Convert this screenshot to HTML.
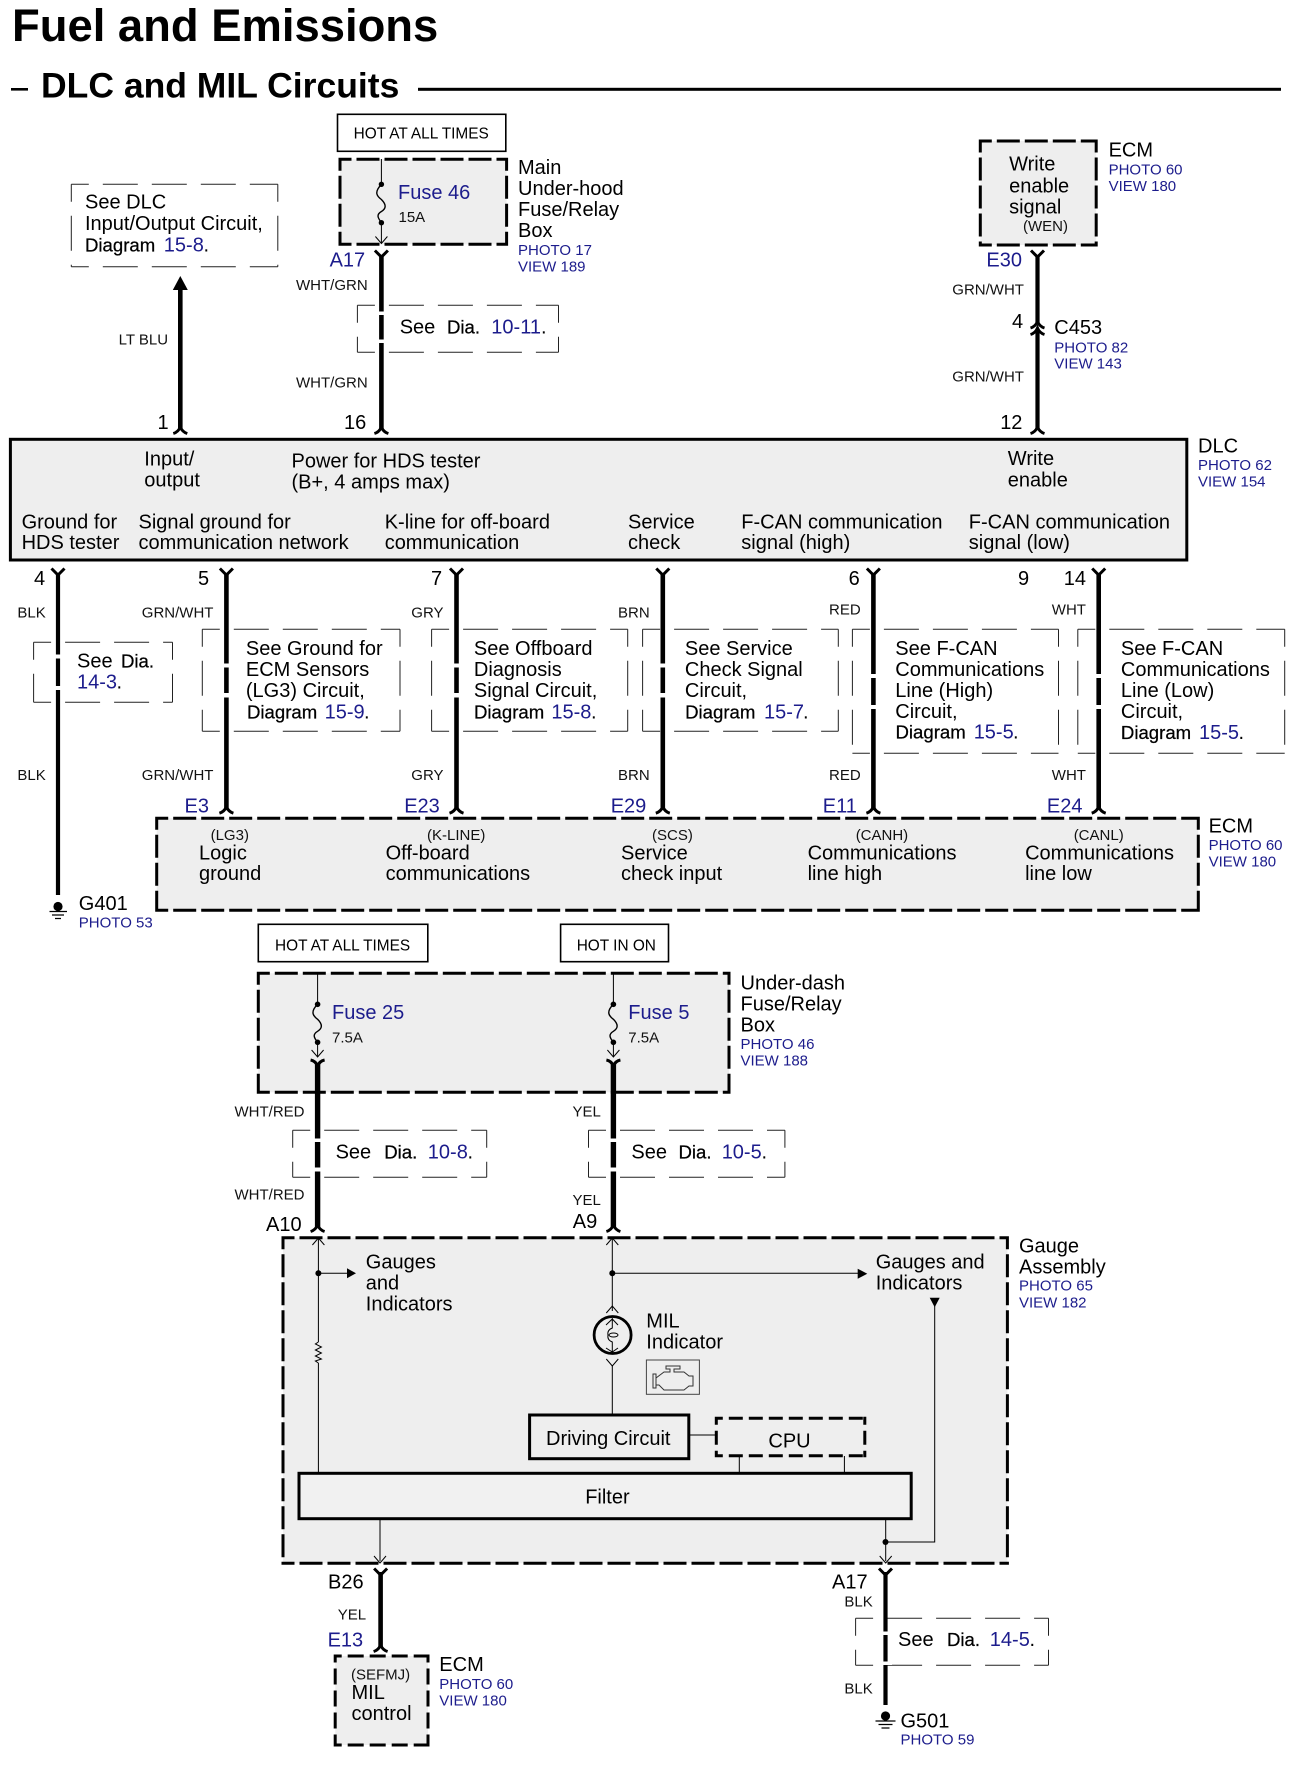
<!DOCTYPE html>
<html><head><meta charset="utf-8"><style>
html,body{margin:0;padding:0;background:#fff}
svg{display:block}
text{font-family:"Liberation Sans",Arial,sans-serif;font-size:20px;fill:#000}
.s{font-size:15px;fill:#111}
.h{font-size:15.4px}
.b{fill:#1c1c8c}
.p{font-size:15px;fill:#1c1c8c}
.d{font-size:18.6px;stroke:#000;stroke-width:.25px}
.bx{fill:#eee;stroke:none}
.box{fill:none;stroke:#000;stroke-width:3;stroke-dasharray:23 5;stroke-dashoffset:10}
.see{fill:none;stroke:#222;stroke-width:1;stroke-dasharray:35 14;stroke-dashoffset:17.5}
.w{stroke:#000;stroke-width:4.6;fill:none}
.c{stroke:#000;stroke-width:3;fill:none}
.n{stroke:#000;stroke-width:1;fill:none}
.f{stroke:#000;stroke-width:1.4;fill:none}
</style></head><body>
<svg width="1295" height="1767" viewBox="0 0 1295 1767" xmlns="http://www.w3.org/2000/svg">
<defs>
<path id="y" class="c" d="M-6.5,-6.5L0,0L6.5,-6.5"/>
<path id="u" class="c" d="M-7,6.5Q-2,5 0,0Q2,5 7,6.5"/>
<path id="v" class="c" d="M-7,-6Q-2,-5 0,0Q2,-5 7,-6"/>
<path id="cd" class="n" d="M-6,-7L0,0L6,-7"/>
<path id="cu" class="n" d="M-6,7L0,0L6,7"/>
<path id="fz" class="f" d="M0,0C-8,8 -4,12 0,15C5,20 5,24 0,27C-5,30 -4,33 0,38"/>
</defs>

<text x="12" y="41" style="font-size:45.4px;font-weight:bold">Fuel and Emissions</text>
<rect x="11" y="88" width="17" height="2.6"/>
<text x="41" y="97.5" style="font-size:35.5px;font-weight:bold">DLC and MIL Circuits</text>
<rect x="418" y="87.8" width="863" height="3"/>

<!-- See DLC -->
<path class="see" d="M71.3,184.3h206.5m-206.5,82.4h206.5M71.3,184.3v82.4m206.5,-82.4v82.4"/>
<text x="85" y="208.7">See DLC</text>
<text x="85" y="230">Input/Output Circuit,</text>
<text class="d" x="85" y="251.7">Diagram</text><text class="b" x="163.8" y="251.7">15-8</text><text x="203.5" y="251.7">.</text>
<path d="M180.3,276L187.8,290H172.8Z"/><path class="w" d="M180.3,285V429"/><use href="#u" x="180.3" y="427"/>
<text class="s" x="118.6" y="344.3">LT BLU</text>
<text x="157.5" y="429">1</text>

<!-- Fuse 46 -->
<rect x="337.5" y="114.3" width="168.3" height="37" fill="#fff" stroke="#000" stroke-width="1.6"/>
<text class="h" x="353.6" y="138.3">HOT AT ALL TIMES</text>
<rect class="bx" x="340" y="159.3" width="166.6" height="85"/>
<path class="box" d="M338.5,159.3h169.6m-169.6,85h169.6M340,157.8v88m166.6,-88v88"/>
<path class="n" d="M381.4,159V184M381.4,222.7V243"/><use href="#fz" x="381.4" y="184.5"/>
<circle cx="381.4" cy="184.3" r="2.7"/><circle cx="381.4" cy="222.7" r="2.7"/>
<use href="#cd" x="381.4" y="243.5"/>
<text class="b" x="398" y="199">Fuse 46</text>
<text class="s" x="398.5" y="222">15A</text>
<text x="518" y="174">Main</text><text x="518" y="195">Under-hood</text><text x="518" y="216">Fuse/Relay</text><text x="518" y="237">Box</text>
<text class="p" x="518" y="255">PHOTO 17</text><text class="p" x="518" y="271.7">VIEW 189</text>
<text class="b" x="329.6" y="266.7">A17</text>
<use href="#y" x="381.4" y="257"/><use href="#u" x="381.4" y="427"/>
<path class="see" d="M357.4,305.3h201.1m-201.1,47h201.1M357.4,305.3v47m201.1,-47v47"/>
<path class="w" d="M381.4,255V429"/>
<rect x="376" y="311.5" width="11" height="3.5" fill="#fff"/><rect x="376" y="339.5" width="11" height="3.5" fill="#fff"/>
<text class="s" x="296" y="290">WHT/GRN</text><text class="s" x="296" y="387.7">WHT/GRN</text>
<text x="399.7" y="333.3">See</text><text class="d" x="447" y="333.3">Dia.</text><text class="b" x="491.3" y="333.3">10-11</text><text x="541" y="333.3">.</text>
<text x="344" y="429">16</text>

<!-- Write enable -->
<rect class="bx" x="980.3" y="141" width="115.9" height="104"/>
<path class="box" d="M978.8,141h118.9m-118.9,104h118.9M980.3,139.5v107m115.9,-107v107"/>
<text x="1009.1" y="170.7">Write</text><text x="1009.1" y="192.3">enable</text><text x="1009.1" y="213.3">signal</text><text class="s" x="1023" y="231">(WEN)</text>
<text x="1108.6" y="156.7">ECM</text><text class="p" x="1108.6" y="174.3">PHOTO 60</text><text class="p" x="1108.6" y="191">VIEW 180</text>
<text class="b" x="986.4" y="266.7">E30</text>
<path class="w" style="stroke-width:4.2" d="M1037.5,255V323M1037.5,330V430"/>
<use href="#y" x="1037.5" y="257"/><use href="#u" x="1037.5" y="321.5"/><use href="#u" x="1037.5" y="328"/><use href="#u" x="1037.5" y="427"/>
<text class="s" x="952.3" y="294.3">GRN/WHT</text><text class="s" x="952.3" y="381.3">GRN/WHT</text>
<text x="1012" y="328">4</text><text x="1000.2" y="429">12</text>
<text x="1054.3" y="334">C453</text><text class="p" x="1054.3" y="352.3">PHOTO 82</text><text class="p" x="1054.3" y="368.7">VIEW 143</text>

<!-- DLC -->
<rect x="10.4" y="439.3" width="1176.4" height="120.7" fill="#eee" stroke="#000" stroke-width="3"/>
<text x="144.3" y="465.7">Input/</text><text x="144.3" y="486.7">output</text>
<text x="291.5" y="467.3">Power for HDS tester</text><text x="291.5" y="488.3">(B+, 4 amps max)</text>
<text x="1007.8" y="465">Write</text><text x="1007.8" y="486.5">enable</text>
<text x="21.6" y="528.3">Ground for</text><text x="21.6" y="549">HDS tester</text>
<text x="138.5" y="528.3">Signal ground for</text><text x="138.5" y="549">communication network</text>
<text x="384.7" y="528.3">K-line for off-board</text><text x="384.7" y="549">communication</text>
<text x="628" y="528.3">Service</text><text x="628" y="549">check</text>
<text x="741.3" y="528.3">F-CAN communication</text><text x="741.3" y="549">signal (high)</text>
<text x="968.8" y="528.3">F-CAN communication</text><text x="968.8" y="549">signal (low)</text>
<text x="1198" y="452.7">DLC</text><text class="p" x="1198" y="470">PHOTO 62</text><text class="p" x="1198" y="486.7">VIEW 154</text>

<!-- See boxes row -->
<path class="see" d="M33.6,642.3h138.9m-138.9,60h138.9M33.6,642.3v60m138.9,-60v60"/>
<path class="see" d="M202.3,629.3h197.7m-197.7,102h197.7M202.3,629.3v102m197.7,-102v102"/>
<path class="see" d="M431.6,629.3h196.1m-196.1,102h196.1M431.6,629.3v102m196.1,-102v102"/>
<path class="see" d="M642.6,629.3h195.7m-195.7,102h195.7M642.6,629.3v102m195.7,-102v102"/>
<path class="see" d="M852.4,629.3h206.1m-206.1,124h206.1M852.4,629.3v124m206.1,-124v124"/>
<path class="see" d="M1077.8,629.3h206.9m-206.9,124h206.9M1077.8,629.3v124m206.9,-124v124"/>

<!-- Wires row -->
<path class="w" style="stroke-width:4.2" d="M58,573V895"/><use href="#y" x="58" y="575"/>
<rect x="52" y="654.5" width="12" height="4" fill="#fff"/><rect x="52" y="686" width="12" height="4" fill="#fff"/>
<path class="w" d="M226.4,573V810"/><use href="#y" x="226.4" y="575"/><use href="#u" x="226.4" y="806.7"/>
<rect x="220" y="663.5" width="12" height="4" fill="#fff"/><rect x="220" y="693" width="12" height="4.5" fill="#fff"/>
<path class="w" d="M456.5,573V810"/><use href="#y" x="456.5" y="575"/><use href="#u" x="456.5" y="806.7"/>
<rect x="450" y="663.5" width="12" height="4" fill="#fff"/><rect x="450" y="693" width="12" height="4.5" fill="#fff"/>
<path class="w" d="M662.8,573V810"/><use href="#y" x="662.8" y="575"/><use href="#u" x="662.8" y="806.7"/>
<rect x="657" y="663.5" width="12" height="4" fill="#fff"/><rect x="657" y="693" width="12" height="4.5" fill="#fff"/>
<path class="w" d="M873.4,573V810"/><use href="#y" x="873.4" y="575"/><use href="#u" x="873.4" y="806.7"/>
<rect x="867" y="674" width="13" height="4" fill="#fff"/><rect x="867" y="705" width="13" height="4" fill="#fff"/>
<path class="w" d="M1098.7,573V810"/><use href="#y" x="1098.7" y="575"/><use href="#u" x="1098.7" y="806.7"/>
<rect x="1092" y="674" width="13" height="4" fill="#fff"/><rect x="1092" y="705" width="13" height="4" fill="#fff"/>

<text x="34" y="585">4</text><text x="198" y="585">5</text><text x="431" y="585">7</text><text x="848.6" y="585">6</text><text x="1018" y="585">9</text><text x="1063.8" y="585">14</text>
<text class="s" x="17.4" y="617.7">BLK</text><text class="s" x="17.4" y="780">BLK</text>
<text class="s" x="141.8" y="617.7">GRN/WHT</text><text class="s" x="141.8" y="780">GRN/WHT</text>
<text class="s" x="411.3" y="617.7">GRY</text><text class="s" x="411.3" y="780">GRY</text>
<text class="s" x="618" y="617.7">BRN</text><text class="s" x="618" y="780">BRN</text>
<text class="s" x="829" y="614.7">RED</text><text class="s" x="829" y="780">RED</text>
<text class="s" x="1051.8" y="614.7">WHT</text><text class="s" x="1051.8" y="780">WHT</text>

<text x="77" y="667.3">See</text><text class="d" x="121" y="667.3">Dia.</text><text class="b" x="77" y="688.3">14-3</text><text x="116.5" y="688.3">.</text>
<text x="245.9" y="655">See Ground for</text><text x="245.9" y="676">ECM Sensors</text><text x="245.9" y="697">(LG3) Circuit,</text><text class="d" x="247" y="718.3">Diagram</text><text class="b" x="324.6" y="718.3">15-9</text><text x="364" y="718.3">.</text>
<text x="473.9" y="655">See Offboard</text><text x="473.9" y="676">Diagnosis</text><text x="473.9" y="697">Signal Circuit,</text><text class="d" x="474" y="718.3">Diagram</text><text class="b" x="551.4" y="718.3">15-8</text><text x="591" y="718.3">.</text>
<text x="684.9" y="655">See Service</text><text x="684.9" y="676">Check Signal</text><text x="684.9" y="697">Circuit,</text><text class="d" x="685.1" y="718.3">Diagram</text><text class="b" x="764" y="718.3">15-7</text><text x="803" y="718.3">.</text>
<text x="895.3" y="655">See F-CAN</text><text x="895.3" y="676">Communications</text><text x="895.3" y="697">Line (High)</text><text x="895.3" y="718">Circuit,</text><text class="d" x="895.5" y="738.5">Diagram</text><text class="b" x="973.7" y="738.5">15-5</text><text x="1013" y="738.5">.</text>
<text x="1120.9" y="655">See F-CAN</text><text x="1120.9" y="676">Communications</text><text x="1120.9" y="697">Line (Low)</text><text x="1120.9" y="718">Circuit,</text><text class="d" x="1120.9" y="739">Diagram</text><text class="b" x="1199" y="739">15-5</text><text x="1238.5" y="739">.</text>

<text class="b" x="184.5" y="812.7">E3</text><text class="b" x="404.2" y="812.7">E23</text><text class="b" x="610.7" y="812.7">E29</text><text class="b" x="822.8" y="812.7">E11</text><text class="b" x="1046.9" y="812.7">E24</text>

<!-- ECM box -->
<rect class="bx" x="156.7" y="818.3" width="1041.6" height="92"/>
<path class="box" d="M155.2,818.3h1044.6m-1044.6,92h1044.6M156.7,816.8v95m1041.6,-95v95"/>
<text class="s" x="210.6" y="840">(LG3)</text><text x="199" y="859.3">Logic</text><text x="199" y="880">ground</text>
<text class="s" x="427" y="840">(K-LINE)</text><text x="385.6" y="859.3">Off-board</text><text x="385.6" y="880">communications</text>
<text class="s" x="652" y="840">(SCS)</text><text x="621" y="859.3">Service</text><text x="621" y="880">check input</text>
<text class="s" x="855.7" y="840">(CANH)</text><text x="807.6" y="859.3">Communications</text><text x="807.6" y="880">line high</text>
<text class="s" x="1073.7" y="840">(CANL)</text><text x="1025.1" y="859.3">Communications</text><text x="1025.1" y="880">line low</text>
<text x="1208.6" y="832.3">ECM</text><text class="p" x="1208.6" y="850">PHOTO 60</text><text class="p" x="1208.6" y="866.7">VIEW 180</text>

<!-- G401 -->
<circle cx="58" cy="906.5" r="4.6"/><path stroke="#000" stroke-width="1.3" d="M49.5,911.5H67M52,915H64M55,918.5H61"/>
<text x="78.8" y="910">G401</text><text class="p" x="78.8" y="927.7">PHOTO 53</text>

<!-- Under-dash -->
<rect x="258.3" y="924.3" width="169.5" height="37.4" fill="#fff" stroke="#000" stroke-width="1.6"/>
<text class="h" x="275" y="950.7">HOT AT ALL TIMES</text>
<rect x="560.6" y="924.3" width="107.9" height="37.4" fill="#fff" stroke="#000" stroke-width="1.6"/>
<text class="h" x="576.7" y="950.7">HOT IN ON</text>
<rect class="bx" x="258.3" y="973.3" width="470.7" height="119"/>
<path class="box" d="M256.8,973.3h473.7m-473.7,119h473.7M258.3,971.8v122m470.7,-122v122"/>
<path class="n" d="M317.6,973V1005M317.6,1042V1057M613.4,973V1005M613.4,1042V1057"/>
<use href="#fz" x="317.6" y="1004.3"/><use href="#fz" x="613.4" y="1004.3"/>
<circle cx="317.6" cy="1004.3" r="2.8"/><circle cx="317.6" cy="1042.3" r="2.8"/><circle cx="613.4" cy="1004.3" r="2.8"/><circle cx="613.4" cy="1042.3" r="2.8"/>
<use href="#cd" x="317.6" y="1057"/><use href="#cd" x="613.4" y="1057"/>
<use href="#v" x="317.6" y="1066"/><use href="#v" x="613.4" y="1066"/>
<path class="w" style="stroke-width:5.4" d="M317.6,1064V1228M613.4,1064V1228"/>
<use href="#u" x="317.6" y="1225"/><use href="#u" x="613.4" y="1225"/>
<text class="b" x="332" y="1019">Fuse 25</text><text class="s" x="332" y="1042.3">7.5A</text>
<text class="b" x="628.3" y="1019">Fuse 5</text><text class="s" x="628.3" y="1042.3">7.5A</text>
<text x="740.5" y="989.3">Under-dash</text><text x="740.5" y="1010.3">Fuse/Relay</text><text x="740.5" y="1031.7">Box</text>
<text class="p" x="740.5" y="1049">PHOTO 46</text><text class="p" x="740.5" y="1065.7">VIEW 188</text>
<text class="s" x="234.5" y="1116.7">WHT/RED</text><text class="s" x="234.5" y="1199.3">WHT/RED</text>
<text class="s" x="572.5" y="1116.7">YEL</text><text class="s" x="572.5" y="1205">YEL</text>
<path class="see" d="M292.7,1130.3h194m-194,47h194M292.7,1130.3v47m194,-47v47"/>
<path class="see" d="M588.5,1130.3h196.4m-196.4,47h196.4M588.5,1130.3v47m196.4,-47v47"/>
<rect x="311" y="1138.5" width="13" height="3.5" fill="#fff"/><rect x="311" y="1167.5" width="13" height="4" fill="#fff"/>
<rect x="607" y="1138.5" width="13" height="3.5" fill="#fff"/><rect x="607" y="1167.5" width="13" height="4" fill="#fff"/>
<text x="335.6" y="1158.3">See</text><text class="d" x="384.2" y="1158.3">Dia.</text><text class="b" x="427.8" y="1158.3">10-8</text><text x="467.5" y="1158.3">.</text>
<text x="631.4" y="1158.3">See</text><text class="d" x="678.5" y="1158.3">Dia.</text><text class="b" x="721.7" y="1158.3">10-5</text><text x="761.5" y="1158.3">.</text>
<text x="266" y="1231">A10</text><text x="572.8" y="1228">A9</text>

<!-- Gauge -->
<rect class="bx" x="283" y="1237.7" width="724.4" height="325.6"/>
<path class="box" d="M281.5,1237.7h727.4m-727.4,325.6h727.4M283,1236.2v328.6m724.4,-328.6v328.6"/>
<use href="#cu" x="318.4" y="1238"/><use href="#cu" x="612.3" y="1238"/>
<path class="n" d="M318.4,1238V1342M318.4,1363V1473M318.4,1273.3H350M612.3,1238V1311M612.3,1273.3H858M612.3,1365V1415"/>
<path class="n" d="M318.4,1342l-3,2 6,3 -6,3 6,3 -6,3 6,3 -6,2 3,2"/>
<circle cx="318.4" cy="1273.3" r="3"/><circle cx="612.3" cy="1273.3" r="3"/>
<path d="M356,1273.3L347,1268.3V1278.3Z"/><path d="M867.3,1273.7L857.7,1268.7V1278.7Z"/>
<use href="#cu" x="612.3" y="1306"/>
<ellipse cx="612.6" cy="1335" rx="18.5" ry="18.5" fill="none" stroke="#000" stroke-width="2.8"/>
<path class="n" d="M612.3,1318V1328Q607,1330 608,1335Q607,1340 612.3,1342V1352M606,1325L612.3,1319L618,1325M606,1348L612.3,1352L618,1348"/>
<ellipse cx="613.5" cy="1335" rx="4.5" ry="2" class="n"/>
<use href="#cd" x="612.3" y="1366"/>
<text x="365.8" y="1268.3">Gauges</text><text x="365.8" y="1289.3">and</text><text x="365.8" y="1310.7">Indicators</text>
<text x="875.7" y="1268.3">Gauges and</text><text x="875.7" y="1289.3">Indicators</text>
<path d="M934.7,1307.3L929.7,1297.7H939.7Z"/><path class="n" d="M934.7,1305V1542H885.5"/>
<text x="646.3" y="1327.3">MIL</text><text x="646.3" y="1348.3">Indicator</text>
<rect x="646.4" y="1360" width="53" height="34.3" fill="none" stroke="#444" stroke-width="1"/>
<path fill="none" stroke="#333" stroke-width="1" d="M653,1374H656V1378L664,1372H670V1369H666V1366H680V1369H674V1372H684L689,1376H693V1386H689L684,1390H664L659,1385H656V1388H653V1374ZM656,1378V1385"/>
<rect x="529.6" y="1415" width="159.2" height="43.7" fill="#eee" stroke="#000" stroke-width="3"/>
<text x="546" y="1445">Driving Circuit</text>
<path class="n" d="M689,1435H716M739.3,1456V1473M844.4,1456V1473"/>
<path class="box" style="stroke-dasharray:14 6;stroke-dashoffset:6" d="M714.8,1418.3h151.5m-151.5,37.4h151.5M716.3,1416.8v40.4m148.5,-40.4v40.4"/>
<text x="768.4" y="1447.7">CPU</text>
<rect x="299" y="1473.3" width="612.2" height="45.4" fill="#f1f1f1" stroke="#000" stroke-width="3"/>
<text x="585.2" y="1503.3">Filter</text>
<path class="n" d="M380,1519V1561M885.7,1519V1561"/>
<circle cx="885.5" cy="1542" r="3"/>
<use href="#cd" x="380" y="1563"/><use href="#cd" x="885.7" y="1563"/>
<text x="1019" y="1252.3">Gauge</text><text x="1019" y="1273.3">Assembly</text>
<text class="p" x="1019" y="1290.7">PHOTO 65</text><text class="p" x="1019" y="1307.3">VIEW 182</text>

<!-- Bottom left -->
<path class="w" d="M380.6,1572V1647"/><use href="#y" x="380.6" y="1575"/><use href="#u" x="380.6" y="1645"/>
<text x="328" y="1588.3">B26</text><text class="s" x="337.8" y="1619.3">YEL</text><text class="b" x="327.6" y="1646.7">E13</text>
<rect class="bx" x="335.2" y="1656" width="92.8" height="89"/>
<path class="box" style="stroke-dasharray:16 6;stroke-dashoffset:8" d="M333.7,1656h95.8m-95.8,89h95.8M335.2,1654.5v92m92.8,-92v92"/>
<text class="s" x="351" y="1679.3">(SEFMJ)</text><text x="351.5" y="1699">MIL</text><text x="351.5" y="1720">control</text>
<text x="439.3" y="1671">ECM</text><text class="p" x="439.3" y="1689">PHOTO 60</text><text class="p" x="439.3" y="1705.7">VIEW 180</text>

<!-- Bottom right -->
<path class="see" d="M855.6,1618.3h192.9m-192.9,47h192.9M855.6,1618.3v47m192.9,-47v47"/>
<path class="w" style="stroke-width:4.2" d="M885.5,1572V1705"/><use href="#y" x="885.5" y="1575"/>
<rect x="879" y="1631.5" width="13" height="3.5" fill="#fff"/><rect x="879" y="1661.5" width="13" height="3.5" fill="#fff"/>
<text x="832" y="1588.3">A17</text><text class="s" x="844.4" y="1606.7">BLK</text><text class="s" x="844.4" y="1693.3">BLK</text>
<text x="898" y="1646">See</text><text class="d" x="947" y="1646">Dia.</text><text class="b" x="989.8" y="1646">14-5</text><text x="1029.5" y="1646">.</text>
<circle cx="885.5" cy="1716" r="4.6"/><path stroke="#000" stroke-width="1.3" d="M875.5,1721H895.5M878.5,1724.5H892.5M881.5,1728H889.5"/>
<text x="900.5" y="1727.3">G501</text><text class="p" x="900.5" y="1744.3">PHOTO 59</text>
</svg>
</body></html>
